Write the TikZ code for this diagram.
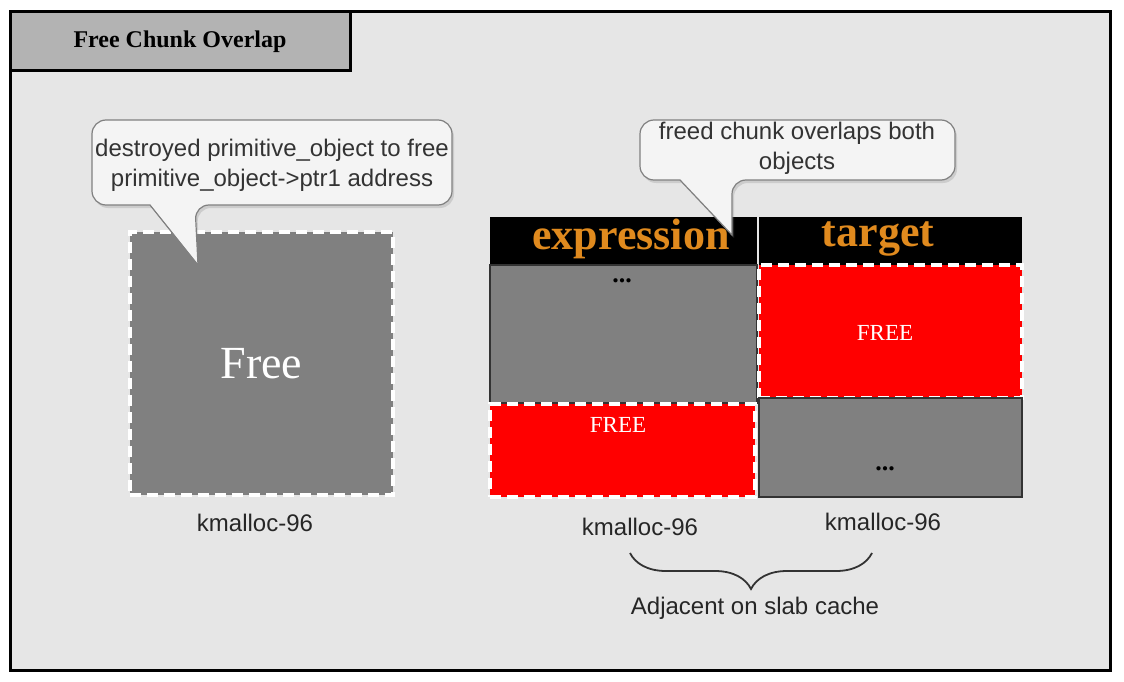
\documentclass[tikz,border=0pt]{standalone}
\usepackage{fontspec}
\setmainfont{Liberation Serif}
\newfontfamily\notefont{Liberation Sans}
\usetikzlibrary{positioning,decorations.pathreplacing,shadows}

\definecolor{bgGray}{HTML}{E6E6E6}
\definecolor{tabGray}{HTML}{B3B3B3}
\definecolor{chunkGray}{HTML}{808080}
\definecolor{noteFill}{HTML}{F4F4F4}
\definecolor{noteText}{HTML}{333333}
\definecolor{headOrange}{HTML}{E08A1E}
\definecolor{freeRed}{HTML}{FF0000}

\begin{document}
\begin{tikzpicture}[
        x=1pt, y=-1pt,
        % define styles
        frame/.style={
            draw=black,
            line width=3pt,
            fill=bgGray
        },
        block/.style={
            anchor=north west,
            inner sep=0pt,
            outer sep=0pt
        },
        used/.style={
            block,
            fill=chunkGray,
            draw=noteText,
            line width=1.5pt
        },
        freed/.style={
            block,
            fill=freeRed,
            draw=white,
            line width=4pt,
            dash pattern=on 11pt off 6pt
        },
        header/.style={
            block,
            fill=black
        },
        headtext/.style={
            text=headOrange,
            font=\bfseries\fontsize{44}{44}\selectfont
        },
        note/.style={
            fill=noteFill,
            draw=chunkGray,
            line width=1.2pt,
            drop shadow={shadow xshift=2pt, shadow yshift=-3pt, opacity=0.25}
        },
        notetext/.style={
            text=noteText,
            align=center,
            font=\notefont\fontsize{24}{30}\selectfont
        },
        label/.style={
            text=black!85,
            font=\notefont\fontsize{24}{28}\selectfont
        },
        dots/.style={
            font=\bfseries\fontsize{26}{26}\selectfont
        },
        freetext/.style={
            text=white,
            font=\fontsize{23}{23}\selectfont
        }
    ]
    % page and outer frame
    \useasboundingbox[fill=white] (0,0) rectangle (1124,682);
    \draw[frame] (10,12) rectangle (1110,670);

    % title tab
    \node[block, draw=black, line width=3pt, fill=tabGray,
          minimum width=340pt, minimum height=59pt,
          font=\bfseries\fontsize{24}{24}\selectfont] (title) at (10,12) {Free Chunk Overlap};

    % left: the freed primitive_object
    \node[block, fill=chunkGray, draw=white, line width=4pt, dash pattern=on 11pt off 6pt,
          minimum width=263pt, minimum height=263pt] (freeChunk) at (130,232) {};
    \node[text=white, font=\fontsize{46}{46}\selectfont] (freeText) at (freeChunk.center) {Free};
    \node[label] (kmLeft) at (255,523) {kmalloc-96};

    % callout over the left chunk
    \draw[note] (150,205) [rounded corners=14pt] -- (92,205) -- (92,120) -- (452,120)
        -- (452,205) -- (195,205) [sharp corners] -- (198,265) -- cycle;
    \node[notetext] (destroyedNote) at (272,165)
        {destroyed primitive\_object to free\\primitive\_object->ptr1 address};

    % right: expression and target objects
    \node[header, minimum width=267pt, minimum height=48pt] (expression) at (490,217) {};
    \node[headtext] (exprTitle) at (631,239) {expression};
    \node[header, minimum width=263pt, minimum height=48pt] (target) at (759,217) {};
    \node[headtext] (targetTitle) at (878,239) {target};

    \node[used, minimum width=267pt, minimum height=138pt] (exprBody) at (490,265) {};
    \node[dots] (exprDots) at (622,281) {...};
    \node[freed, minimum width=265pt, minimum height=93pt] (exprFree) at (490,404) {};
    \node[freetext] (exprFreeText) at (618,425) {FREE};

    \node[freed, minimum width=263pt, minimum height=133pt] (targetFree) at (759,265) {};
    \node[freetext] (targetFreeText) at (885,333) {FREE};
    \node[used, minimum width=263pt, minimum height=99pt] (targetBody) at (759,398) {};
    \node[dots] (targetDots) at (885,469) {...};

    % callout over both objects
    \draw[note] (680,180) [rounded corners=14pt] -- (640,180) -- (640,120) -- (955,120)
        -- (955,180) -- (732,180) [sharp corners] -- (732,235) -- cycle;
    \node[notetext] (overlapNote) at (797,148) {freed chunk overlaps both\\objects};

    \node[label] (kmExpr) at (640,527) {kmalloc-96};
    \node[label] (kmTarget) at (883,522) {kmalloc-96};

    % brace below the two caches
    \coordinate (braceL) at (630,553);
    \coordinate (braceR) at (872,553);
    \draw[noteText, line width=1.8pt, decorate,
          decoration={brace, mirror, amplitude=36pt}] (braceL) -- (braceR);
    \node[label] (adjacent) at (755,608) {Adjacent on slab cache};

\end{tikzpicture}
\end{document}
